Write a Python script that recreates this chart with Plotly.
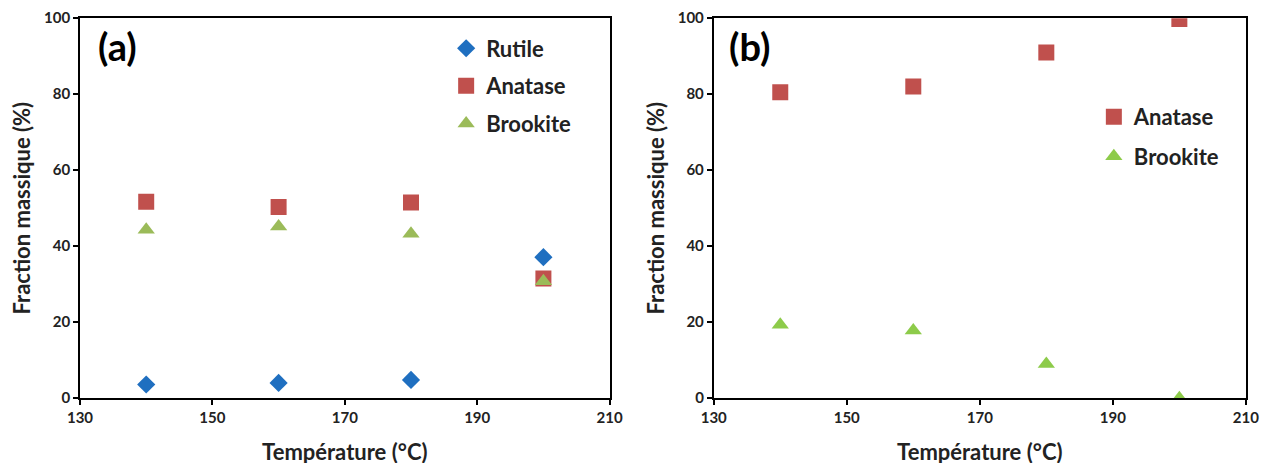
import plotly.graph_objects as go

temps = [140, 160, 180, 200]
a_rutile = [3.6, 4.0, 4.8, 37.1]
a_anatase = [51.7, 50.3, 51.5, 31.5]
a_brookite = [44.3, 45.2, 43.3, 30.8]
b_anatase = [80.5, 82.0, 91.0, 99.8]
b_brookite = [19.3, 17.8, 9.0, 0.0]
x_ticks = [130, 150, 170, 190, 210]
y_ticks = [0, 20, 40, 60, 80, 100]

BLUE = "#1F6FC0"
RED = "#C0504D"
GREEN_A = "#9BBB59"
GREEN_B = "#8DCB4A"
FONT = "Lato"

fig = go.Figure()

def add(x, y, name, sym, color, size, xa, ya, legend, group):
    fig.add_trace(go.Scatter(
        x=x, y=y, mode="markers", name=f"<b>{name}</b>", xaxis=xa, yaxis=ya,
        legend=legend, legendgroup=group,
        marker=dict(symbol=sym, color=color, size=size, line=dict(width=0)),
    ))

add(temps, a_rutile, "Rutile", "diamond", BLUE, 14, "x", "y", "legend", "r")
add(temps, a_anatase, "Anatase", "square", RED, 16, "x", "y", "legend", "a")
add(temps, a_brookite, "Brookite", "triangle-up", GREEN_A, 15, "x", "y", "legend", "b")
add(temps, b_anatase, "Anatase", "square", RED, 16, "x2", "y2", "legend2", "a2")
add(temps, b_brookite, "Brookite", "triangle-up", GREEN_B, 15, "x2", "y2", "legend2", "b2")

axis_common = dict(
    showgrid=False, zeroline=False, showline=True, linecolor="black", linewidth=1.8,
    mirror=True, ticks="outside", ticklen=5, tickcolor="black", tickwidth=1.5,
    tickfont=dict(family=FONT, size=15, color="#222"), automargin=False,
)
xt = dict(range=[130, 210], tickvals=x_ticks, ticktext=[f"<b>{v}</b>" for v in x_ticks],
          title=dict(text="<b>Température (°C)</b>", font=dict(family=FONT, size=22, color="#222"), standoff=20))
yt = dict(range=[0, 100], tickvals=y_ticks, ticktext=[f"<b>{v}</b>" for v in y_ticks],
          title=dict(text="<b>Fraction massique (%)</b>", font=dict(family=FONT, size=22, color="#222"), standoff=7))

fig.update_layout(
    width=1270, height=463,
    margin=dict(l=0, r=0, t=0, b=0, autoexpand=False),
    paper_bgcolor="white", plot_bgcolor="white",
    xaxis=dict(domain=[0.0567, 0.4737], anchor="y", **axis_common, **xt),
    yaxis=dict(domain=[0.1573, 0.978], anchor="x", **axis_common, **yt),
    xaxis2=dict(domain=[0.5557, 0.9747], anchor="y2", **axis_common, **xt),
    yaxis2=dict(domain=[0.1573, 0.978], anchor="x2", **axis_common, **yt),
    legend=dict(x=0.345, y=0.958, xanchor="left", yanchor="top", bgcolor="rgba(0,0,0,0)",
                font=dict(family=FONT, size=22, color="#222"), tracegroupgap=6,
                itemwidth=30),
    legend2=dict(x=0.855, y=0.81, xanchor="left", yanchor="top", bgcolor="rgba(0,0,0,0)",
                 font=dict(family=FONT, size=22, color="#222"), tracegroupgap=8,
                 itemwidth=30),
    annotations=[
        dict(text="<b>(a)</b>", x=0.069, y=0.917, xref="paper", yref="paper", showarrow=False,
             xanchor="left", yanchor="middle", font=dict(family=FONT, size=38, color="black")),
        dict(text="<b>(b)</b>", x=0.566, y=0.917, xref="paper", yref="paper", showarrow=False,
             xanchor="left", yanchor="middle", font=dict(family=FONT, size=38, color="black")),
    ],
)

fig.write_html("out.html")
